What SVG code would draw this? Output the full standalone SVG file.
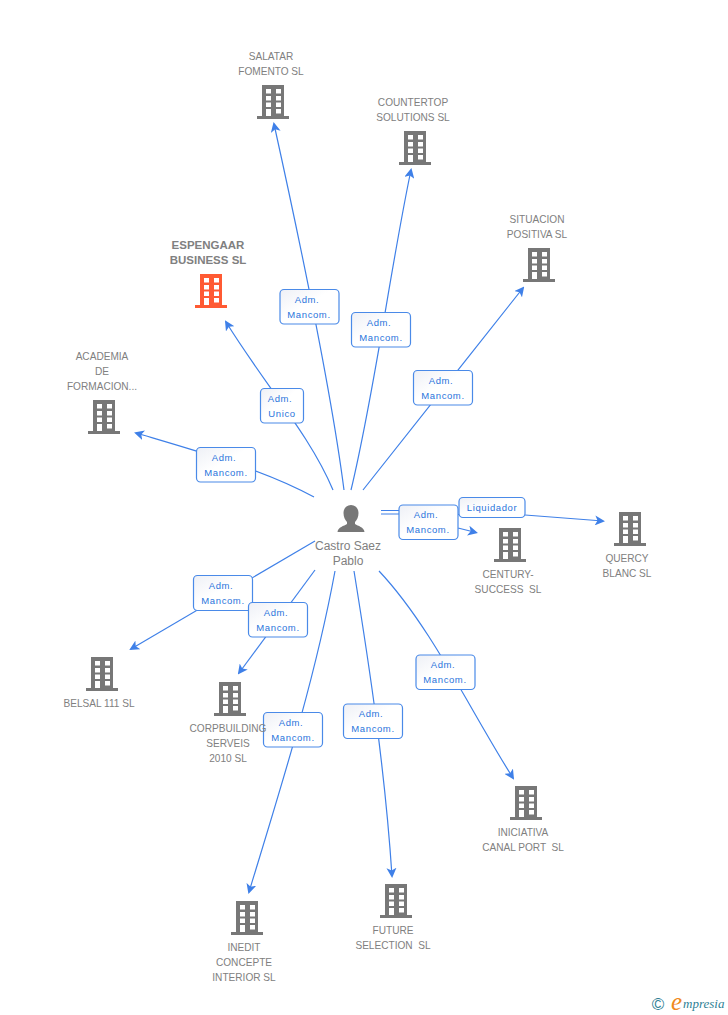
<svg xmlns="http://www.w3.org/2000/svg" width="728" height="1015" viewBox="0 0 728 1015">
<style>
text{font-family:"Liberation Sans",Arial,sans-serif}
.n{font-size:10.1px;fill:#808080;text-anchor:middle;white-space:pre}
.b{font-size:11.500px;font-weight:bold;fill:#808080;text-anchor:middle}
.p{font-size:12px;fill:#808080;text-anchor:middle}
.c{fill:none;stroke:#3f80e8;stroke-width:1.200}
.l{fill:url(#lg);stroke:#4a8ae8;stroke-width:1.200}
.t{font-size:9.500px;fill:#2a74dc;text-anchor:middle;letter-spacing:.6px}
.g{fill:#777}
.o{fill:#ff5a33}
</style>
<defs>
<linearGradient id="lg" x1="0" y1="0" x2="1" y2="1"><stop offset="0" stop-color="#eef0f6"/><stop offset=".45" stop-color="#fff"/></linearGradient>
<marker id="a" viewBox="0 0 10 10" refX="8" refY="5" markerWidth="10" markerHeight="10" markerUnits="userSpaceOnUse" orient="auto"><path d="M0 0L10 5L0 10L2.500 5Z" fill="#3f80e8"/></marker>
<path id="bld" fill-rule="evenodd" d="M-11 0H11V31H16V34H-16V31H-11ZM-7 4V8.500H-2V4ZM3 4V8.500H8V4ZM-7 11V15.500H-2V11ZM3 11V15.500H8V11ZM-7 17.500V22H-2V17.500ZM3 17.500V22H8V17.500ZM-7 24V31H-2V24ZM3 24V28.500H8V24Z"/>
</defs>
<g id="connectors">
<path class="c" marker-end="url(#a)" d="M344 490C335 420 315 310 274 124"/>
<path class="c" marker-end="url(#a)" d="M351 490C375 390 390 270 411 170"/>
<path class="c" marker-end="url(#a)" d="M363 490C410 430 470 355 523 288"/>
<path class="c" marker-end="url(#a)" d="M333 490C310 435 265 385 226 322"/>
<path class="c" marker-end="url(#a)" d="M314 497C265 470 200 452 136 433"/>
<path class="c" marker-end="url(#a)" d="M381 510.500H399L458 528L476 532.500"/>
<path class="c" marker-end="url(#a)" d="M381 514H399L525 515L603 521"/>
<path class="c" marker-end="url(#a)" d="M315 541L131 649"/>
<path class="c" marker-end="url(#a)" d="M315 570L239 673"/>
<path class="c" marker-end="url(#a)" d="M335 571C315 680 280 790 249 892"/>
<path class="c" marker-end="url(#a)" d="M354 571C370 670 385 770 392 876"/>
<path class="c" marker-end="url(#a)" d="M379 571C430 625 470 710 513 778"/>
</g>
<g id="edge-labels">
<rect class="l" x="280" y="289.500" width="59" height="34.500" rx="4"/><text class="t" x="307" y="303">Adm.</text><text class="t" x="309" y="318">Mancom.</text>
<rect class="l" x="351.500" y="312.500" width="59" height="34.500" rx="4"/><text class="t" x="379" y="326">Adm.</text><text class="t" x="381" y="341">Mancom.</text>
<rect class="l" x="413.500" y="370.500" width="59" height="34.500" rx="4"/><text class="t" x="441" y="384">Adm.</text><text class="t" x="443" y="399">Mancom.</text>
<rect class="l" x="260.500" y="388.500" width="43" height="34.500" rx="4"/><text class="t" x="280" y="402">Adm.</text><text class="t" x="282" y="417">Unico</text>
<rect class="l" x="196.500" y="447.500" width="59" height="34.500" rx="4"/><text class="t" x="224" y="461">Adm.</text><text class="t" x="226" y="476">Mancom.</text>
<rect class="l" x="399" y="505" width="59" height="34.500" rx="4"/><text class="t" x="426" y="518">Adm.</text><text class="t" x="428" y="533">Mancom.</text>
<rect class="l" x="459" y="497.500" width="66" height="20" rx="4"/><text class="t" x="492" y="511">Liquidador</text>
<rect class="l" x="193.500" y="575.500" width="59" height="35" rx="4"/><text class="t" x="221" y="589">Adm.</text><text class="t" x="223" y="604">Mancom.</text>
<rect class="l" x="248.500" y="602.500" width="59" height="34.500" rx="4"/><text class="t" x="276" y="616">Adm.</text><text class="t" x="278" y="631">Mancom.</text>
<rect class="l" x="263.500" y="712.500" width="59" height="34.500" rx="4"/><text class="t" x="291" y="726">Adm.</text><text class="t" x="293" y="741">Mancom.</text>
<rect class="l" x="343.500" y="704" width="59" height="34.500" rx="4"/><text class="t" x="371" y="717">Adm.</text><text class="t" x="373" y="732">Mancom.</text>
<rect class="l" x="416" y="655" width="59" height="34.500" rx="4"/><text class="t" x="443" y="668">Adm.</text><text class="t" x="445" y="683">Mancom.</text>
</g>
<g id="person">
<path class="g" d="M351 505C356 505 358.500 509 358.500 513C358.500 517 357 520 355 522V524C358 526 364 527 364.500 532H337.500C338 527 344 526 347 524V522C345 520 343.500 517 343.500 513C343.500 509 346 505 351 505Z"/>
<text class="p" x="348" y="550">Castro Saez</text><text class="p" x="348" y="565">Pablo</text>
</g>
<g id="salatar"><use class="g" href="#bld" x="273" y="85"/><text class="n" x="271" y="60">SALATAR</text><text class="n" x="271" y="75">FOMENTO SL</text></g>
<g id="countertop"><use class="g" href="#bld" x="415" y="131"/><text class="n" x="413" y="106">COUNTERTOP</text><text class="n" x="413" y="121">SOLUTIONS SL</text></g>
<g id="situacion"><use class="g" href="#bld" x="539" y="248"/><text class="n" x="537" y="223">SITUACION</text><text class="n" x="537" y="238">POSITIVA SL</text></g>
<g id="espengaar"><use class="o" href="#bld" x="211" y="274"/><text class="b" x="208" y="249">ESPENGAAR</text><text class="b" x="208" y="264">BUSINESS SL</text></g>
<g id="academia"><use class="g" href="#bld" x="104" y="400"/><text class="n" x="102" y="360">ACADEMIA</text><text class="n" x="102" y="375">DE</text><text class="n" x="102" y="390">FORMACION...</text></g>
<g id="quercy"><use class="g" href="#bld" x="630" y="512"/><text class="n" x="627" y="562">QUERCY</text><text class="n" x="627" y="577">BLANC SL</text></g>
<g id="century"><use class="g" href="#bld" x="510" y="528"/><text class="n" x="508" y="578">CENTURY-</text><text class="n" x="508" y="593">SUCCESS  SL</text></g>
<g id="belsal"><use class="g" href="#bld" x="102" y="657"/><text class="n" x="99" y="707">BELSAL 111 SL</text></g>
<g id="corpbuilding"><use class="g" href="#bld" x="230" y="682"/><text class="n" x="228" y="732">CORPBUILDING</text><text class="n" x="228" y="747">SERVEIS</text><text class="n" x="228" y="762">2010 SL</text></g>
<g id="iniciativa"><use class="g" href="#bld" x="526" y="786"/><text class="n" x="523" y="836">INICIATIVA</text><text class="n" x="523" y="851">CANAL PORT  SL</text></g>
<g id="future"><use class="g" href="#bld" x="396" y="884"/><text class="n" x="393" y="934">FUTURE</text><text class="n" x="393" y="949">SELECTION  SL</text></g>
<g id="inedit"><use class="g" href="#bld" x="247" y="901"/><text class="n" x="244" y="951">INEDIT</text><text class="n" x="244" y="966">CONCEPTE</text><text class="n" x="244" y="981">INTERIOR SL</text></g>
<g id="brand">
<text x="658" y="1010" font-size="17" fill="#2f7f95" text-anchor="middle">©</text>
<text x="671" y="1010" font-size="25" font-style="italic" fill="#f08a1d" style="font-family:'Liberation Serif',serif">e</text>
<text x="683" y="1008" font-size="13" font-style="italic" fill="#2f7f95" style="font-family:'Liberation Serif',serif">mpresia</text>
</g>
</svg>
